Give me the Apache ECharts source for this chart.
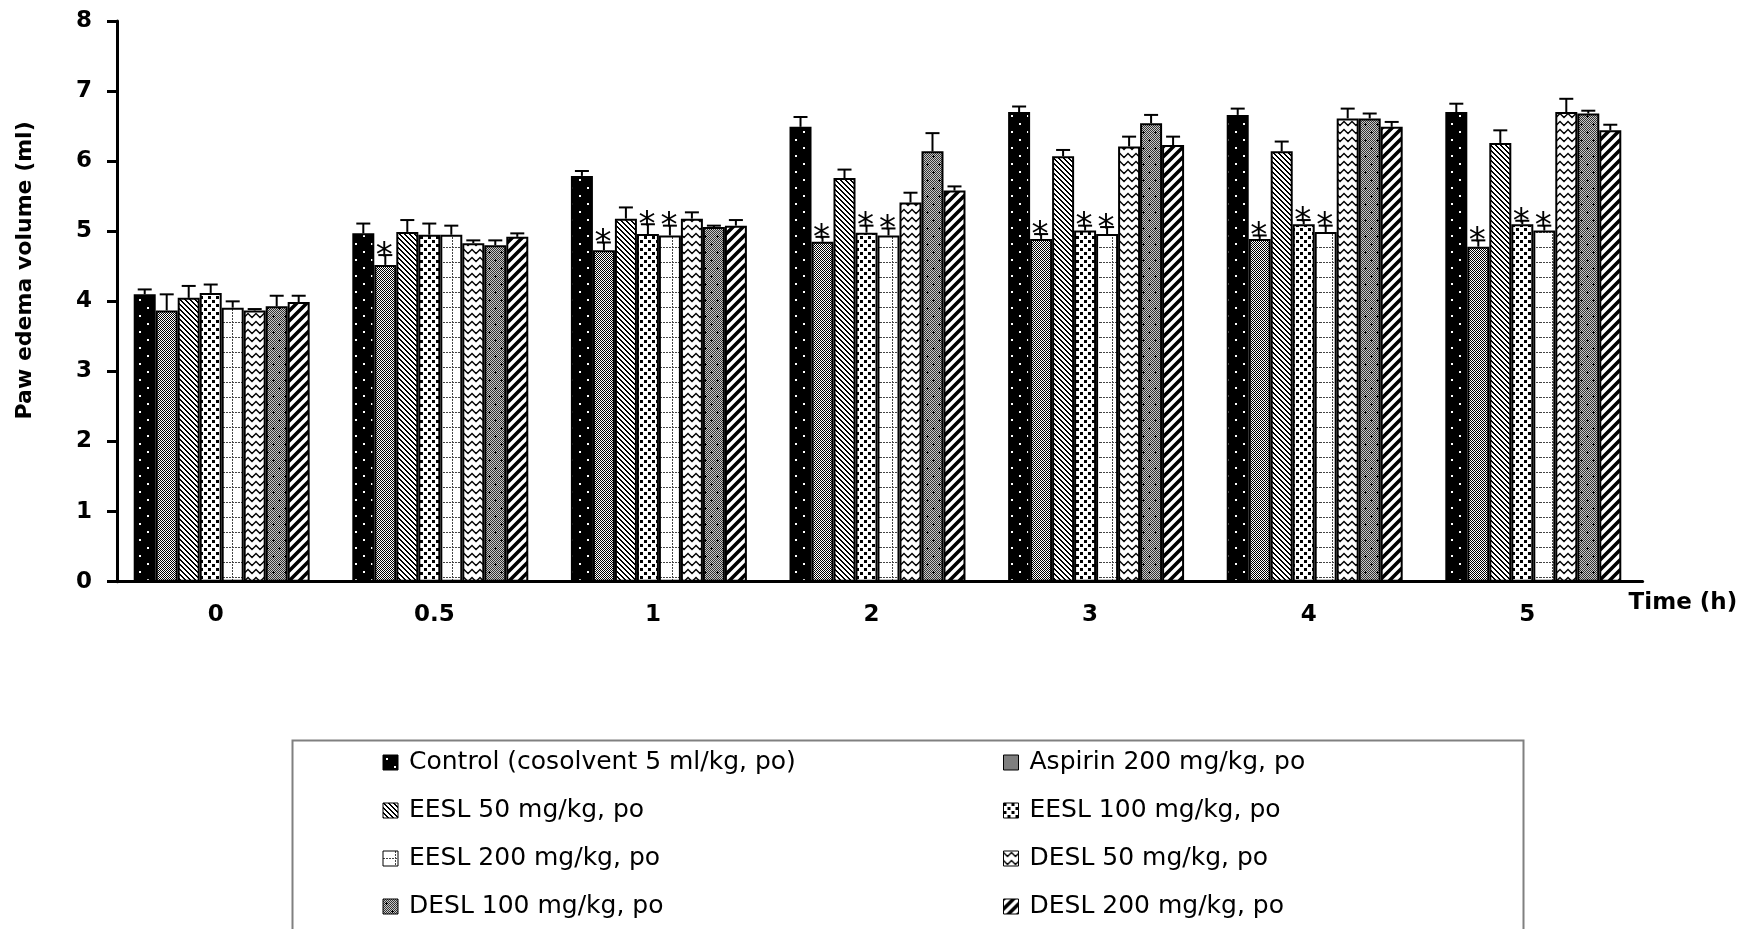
<!DOCTYPE html>
<html>
<head>
<meta charset="utf-8">
<script src="https://cdn.jsdelivr.net/npm/echarts@6/dist/echarts.min.js"></script>
<style>
html,body{margin:0;padding:0;background:#fff;}
#chart{width:1760px;height:929px;}
</style>
</head>
<body>
<div id="chart"></div>
<script>
// ---------------- DATA ----------------
const categories = ['0', '0.5', '1', '2', '3', '4', '5'];
const seriesNames = [
  'Control (cosolvent 5 ml/kg, po)',
  'Aspirin 200 mg/kg, po',
  'EESL 50 mg/kg, po',
  'EESL 100 mg/kg, po',
  'EESL 200 mg/kg, po',
  'DESL 50 mg/kg, po',
  'DESL 100 mg/kg, po',
  'DESL 200 mg/kg, po'
];
const controlMean = [4.10, 4.97, 5.79, 6.49, 6.70, 6.66, 6.70];
const aspirinMean = [3.87, 4.52, 4.73, 4.85, 4.89, 4.89, 4.78];
const eesl50Mean  = [4.05, 4.99, 5.18, 5.76, 6.07, 6.14, 6.26];
const eesl100Mean = [4.12, 4.95, 4.96, 4.98, 5.01, 5.10, 5.10];
const eesl200Mean = [3.91, 4.95, 4.94, 4.94, 4.96, 4.99, 5.01];
const desl50Mean  = [3.87, 4.83, 5.18, 5.41, 6.21, 6.61, 6.70];
const desl100Mean = [3.93, 4.80, 5.06, 6.14, 6.54, 6.61, 6.68];
const desl200Mean = [3.99, 4.92, 5.08, 5.58, 6.23, 6.49, 6.44];

const controlSem = [0.07, 0.14, 0.07, 0.14, 0.08, 0.09, 0.12];
const aspirinSem = [0.23, 0.14, 0.11, 0.07, 0.07, 0.05, 0.09];
const eesl50Sem  = [0.17, 0.17, 0.16, 0.12, 0.09, 0.14, 0.18];
const eesl100Sem = [0.12, 0.16, 0.14, 0.10, 0.07, 0.06, 0.05];
const eesl200Sem = [0.09, 0.13, 0.14, 0.10, 0.10, 0.09, 0.07];
const desl50Sem  = [0.02, 0.04, 0.09, 0.14, 0.14, 0.14, 0.19];
const desl100Sem = [0.15, 0.07, 0.02, 0.26, 0.12, 0.07, 0.04];
const desl200Sem = [0.09, 0.05, 0.08, 0.06, 0.12, 0.07, 0.08];

// significance markers (*) per time point
const controlSig = [0, 0, 0, 0, 0, 0, 0];
const aspirinSig = [0, 1, 1, 1, 1, 1, 1];
const eesl50Sig  = [0, 0, 0, 0, 0, 0, 0];
const eesl100Sig = [0, 0, 1, 1, 1, 1, 1];
const eesl200Sig = [0, 0, 1, 1, 1, 1, 1];
const desl50Sig  = [0, 0, 0, 0, 0, 0, 0];
const desl100Sig = [0, 0, 0, 0, 0, 0, 0];
const desl200Sig = [0, 0, 0, 0, 0, 0, 0];

const yTicks = [0, 1, 2, 3, 4, 5, 6, 7, 8];

const means = [controlMean, aspirinMean, eesl50Mean, eesl100Mean, eesl200Mean, desl50Mean, desl100Mean, desl200Mean];
const sems  = [controlSem, aspirinSem, eesl50Sem, eesl100Sem, eesl200Sem, desl50Sem, desl100Sem, desl200Sem];
const sigs  = [controlSig, aspirinSig, eesl50Sig, eesl100Sig, eesl200Sig, desl50Sig, desl100Sig, desl200Sig];

// ---------------- STYLE ----------------
const FONT = 'DejaVu Sans';
const CAT_GAP = 0.195;
const N = seriesNames.length;

function pat(w, h, draw) {
  const c = document.createElement('canvas');
  c.width = w; c.height = h;
  const ctx = c.getContext('2d');
  draw(ctx, w, h);
  return { image: c, repeat: 'repeat' };
}
function checker(ctx, w, h, a, b) {
  for (let y = 0; y < h; y++) for (let x = 0; x < w; x++) {
    ctx.fillStyle = ((x + y) % 2 === 0) ? a : b;
    ctx.fillRect(x, y, 1, 1);
  }
}
const patterns = [
  // Control: black with white dots
  pat(16, 16, (ctx, w, h) => {
    ctx.fillStyle = '#000'; ctx.fillRect(0, 0, w, h);
    ctx.fillStyle = '#fff'; ctx.fillRect(3, 3, 2, 2); ctx.fillRect(11, 11, 2, 2);
  }),
  // Aspirin: fine grey checker
  pat(2, 2, (ctx, w, h) => checker(ctx, w, h, '#000', '#fff')),
  // EESL 50: thin backslash lines
  pat(5, 5, (ctx, w, h) => {
    ctx.fillStyle = '#fff'; ctx.fillRect(0, 0, w, h);
    ctx.fillStyle = '#000';
    for (let i = 0; i < 5; i++) { ctx.fillRect(i, i, 1, 1); ctx.fillRect((i + 1) % 5, i, 1, 1); }
  }),
  // EESL 100: black squares
  pat(8, 8, (ctx, w, h) => {
    ctx.fillStyle = '#fff'; ctx.fillRect(0, 0, w, h);
    ctx.fillStyle = '#000'; ctx.fillRect(0, 0, 3, 3); ctx.fillRect(4, 4, 3, 3);
  }),
  // EESL 200: dotted grid
  pat(22, 15, (ctx, w, h) => {
    ctx.fillStyle = '#fff'; ctx.fillRect(0, 0, w, h);
    ctx.fillStyle = '#444';
    for (let x = 0; x < w; x += 3) ctx.fillRect(x, 7, 2, 1);
    for (let y = 0; y < h; y += 3) ctx.fillRect(12, y, 1, 2);
  }),
  // DESL 50: zigzag
  pat(8, 8, (ctx, w, h) => {
    ctx.fillStyle = '#fff'; ctx.fillRect(0, 0, w, h);
    ctx.strokeStyle = '#000'; ctx.lineWidth = 1.4;
    ctx.beginPath(); ctx.moveTo(-4, 5.5); ctx.lineTo(0, 1.5); ctx.lineTo(4, 5.5); ctx.lineTo(8, 1.5); ctx.lineTo(12, 5.5); ctx.stroke();
  }),
  // DESL 100: grey with black plus signs
  pat(12, 16, (ctx, w, h) => {
    checker(ctx, w, h, '#333', '#c8c8c8');
    ctx.fillStyle = '#000';
    [[3, 4], [9, 12]].forEach(([x, y]) => { ctx.fillRect(x - 1, y, 3, 1); ctx.fillRect(x, y - 1, 1, 3); });
  }),
  // DESL 200: thick slash stripes
  pat(10, 10, (ctx, w, h) => {
    ctx.fillStyle = '#fff'; ctx.fillRect(0, 0, w, h);
    ctx.strokeStyle = '#000'; ctx.lineWidth = 3.6;
    ctx.beginPath();
    ctx.moveTo(-5, 5); ctx.lineTo(5, -5);
    ctx.moveTo(-5, 15); ctx.lineTo(15, -5);
    ctx.moveTo(5, 15); ctx.lineTo(15, 5);
    ctx.stroke();
  })
];

const barSeries = seriesNames.map((name, k) => ({
  type: 'bar',
  name: name,
  data: means[k],
  barGap: '0%',
  barCategoryGap: (CAT_GAP * 100) + '%',
  itemStyle: { color: patterns[k], borderColor: '#000', borderWidth: 2 },
  emphasis: { disabled: true },
  z: 2
}));

const errSeries = seriesNames.map((name, k) => ({
  type: 'custom',
  name: 'err' + k,
  z: 5,
  silent: true,
  data: means[k].map((m, i) => [i, m, sems[k][i], sigs[k][i]]),
  renderItem: function (params, api) {
    const ci = api.value(0), m = api.value(1), e = api.value(2), s = api.value(3);
    const base = api.coord([ci, m]);
    const top = api.coord([ci, m + e]);
    const band = api.size([1, 0])[0];
    const groupW = band * (1 - CAT_GAP);
    const bw = groupW / N;
    const x = base[0] - groupW / 2 + bw * (k + 0.5);
    const children = [
      { type: 'line', shape: { x1: x, y1: base[1], x2: x, y2: top[1] }, style: { stroke: '#000', lineWidth: 2 } },
      { type: 'line', shape: { x1: x - 7, y1: top[1], x2: x + 7, y2: top[1] }, style: { stroke: '#000', lineWidth: 2 } }
    ];
    if (s) {
      children.push({
        type: 'text',
        style: { text: '*', x: x - 1, y: top[1] + 2, align: 'center', verticalAlign: 'middle', fontSize: 34, fontFamily: FONT, fill: '#000' }
      });
    }
    return { type: 'group', children: children };
  }
}));

const chart = echarts.init(document.getElementById('chart'), null, { renderer: 'canvas' });
chart.setOption({
  animation: false,
  backgroundColor: '#fff',
  textStyle: { fontFamily: FONT, color: '#000' },
  grid: { left: 112.4, right: 117.4, top: 21, bottom: 347.3, containLabel: false },
  xAxis: {
    type: 'category',
    data: categories,
    axisLine: { lineStyle: { color: '#000', width: 3 } },
    axisTick: { show: false },
    axisLabel: { color: '#000', fontFamily: FONT, fontWeight: 'bold', fontSize: 23, margin: 22, padding: [0, 12, 0, 0] },
    name: 'Time (h)',
    nameLocation: 'end',
    nameGap: -14,
    nameTextStyle: { color: '#000', fontFamily: FONT, fontWeight: 'bold', fontSize: 23, verticalAlign: 'top', lineHeight: 42 }
  },
  yAxis: {
    type: 'value',
    min: yTicks[0],
    max: yTicks[yTicks.length - 1],
    interval: 1,
    offset: -4.6,
    splitLine: { show: false },
    axisLine: { show: true, lineStyle: { color: '#000', width: 3 } },
    axisTick: { show: true, length: 10, lineStyle: { color: '#000', width: 3 } },
    axisLabel: { color: '#000', fontFamily: FONT, fontWeight: 'bold', fontSize: 23, margin: 25 },
    name: 'Paw edema volume (ml)',
    nameLocation: 'middle',
    nameGap: 81,
    nameTextStyle: { color: '#000', fontFamily: FONT, fontWeight: 'bold', fontSize: 22, padding: [0, 0, 0, 62] }
  },
  legend: [
    {
      orient: 'vertical', left: 382.5, top: 750, padding: 0, itemGap: 23,
      itemWidth: 15, itemHeight: 15, icon: 'rect', selectedMode: false,
      itemStyle: { borderColor: '#000', borderWidth: 1 },
      textStyle: { fontFamily: FONT, fontSize: 25, color: '#000', padding: [0, 0, 0, 6] },
      data: [seriesNames[0], seriesNames[2], seriesNames[4], seriesNames[6]]
    },
    {
      orient: 'vertical', left: 1003, top: 750, padding: 0, itemGap: 23,
      itemWidth: 15, itemHeight: 15, icon: 'rect', selectedMode: false,
      itemStyle: { borderColor: '#000', borderWidth: 1 },
      textStyle: { fontFamily: FONT, fontSize: 25, color: '#000', padding: [0, 0, 0, 6] },
      data: [seriesNames[1], seriesNames[3], seriesNames[5], seriesNames[7]]
    }
  ],
  graphic: [
    { type: 'rect', left: 290, top: 738, shape: { width: 1231, height: 220 }, style: { fill: 'none', stroke: '#808080', lineWidth: 2 }, silent: true }
  ],
  series: barSeries.concat(errSeries)
});
</script>
</body>
</html>
